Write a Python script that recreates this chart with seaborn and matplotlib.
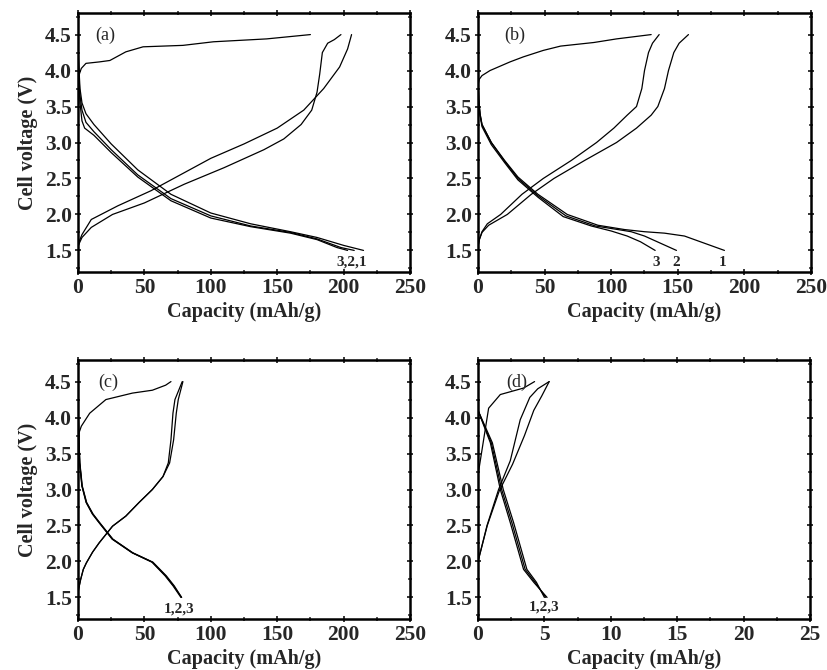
import matplotlib
matplotlib.use("Agg")
import matplotlib.pyplot as plt
import seaborn as sns
from matplotlib.ticker import MultipleLocator

# ---------------- data ----------------
# Panel (a)
a_ch1_x = [0, 1, 2.5, 6, 16, 24, 36, 49, 79, 102, 142, 175]
a_ch1_y = [3.6, 3.95, 4.03, 4.10, 4.12, 4.14, 4.26, 4.33, 4.35, 4.40, 4.44, 4.50]
a_ch2_x = [0, 1, 3, 10, 30, 55, 80, 100, 125, 150, 170, 185, 197, 203, 206]
a_ch2_y = [1.55, 1.63, 1.72, 1.93, 2.12, 2.33, 2.58, 2.78, 2.98, 3.2, 3.45, 3.75, 4.05, 4.3, 4.5]
a_ch3_x = [0, 1, 3, 10, 26, 50, 80, 110, 140, 155, 168, 176, 180, 182, 184, 188, 193, 198]
a_ch3_y = [1.55, 1.6, 1.68, 1.82, 2.0, 2.16, 2.42, 2.65, 2.9, 3.05, 3.25, 3.45, 3.7, 3.95, 4.25, 4.38, 4.43, 4.5]
a_dis1_x = [0, 0.5, 1.5, 3, 6, 12, 25, 45, 70, 100, 130, 160, 180, 200, 215]
a_dis1_y = [4.4, 4.1, 3.75, 3.55, 3.4, 3.25, 2.98, 2.62, 2.28, 2.02, 1.87, 1.76, 1.68, 1.57, 1.5]
a_dis2_x = [0, 0.5, 1.5, 3, 6, 12, 25, 45, 70, 100, 130, 160, 180, 198, 208]
a_dis2_y = [4.4, 4.0, 3.65, 3.45, 3.28, 3.15, 2.9, 2.55, 2.22, 1.98, 1.84, 1.75, 1.66, 1.54, 1.5]
a_dis3_x = [0, 0.5, 1.5, 3, 5, 12, 25, 45, 70, 100, 130, 160, 180, 195, 203]
a_dis3_y = [4.4, 3.95, 3.55, 3.3, 3.2, 3.1, 2.86, 2.52, 2.19, 1.95, 1.83, 1.74, 1.65, 1.54, 1.5]

# Panel (b)
b_ch1_x = [0, 1, 3, 9, 24, 34, 49, 62, 87, 104, 130]
b_ch1_y = [3.8, 3.88, 3.93, 4.0, 4.12, 4.19, 4.28, 4.34, 4.39, 4.44, 4.5]
b_ch2_x = [0, 1, 3, 8, 22, 40, 57, 80, 104, 119, 130, 135, 140, 143, 147, 151, 158]
b_ch2_y = [1.55, 1.65, 1.75, 1.85, 2.0, 2.28, 2.5, 2.75, 3.0, 3.2, 3.38, 3.5, 3.75, 4.0, 4.25, 4.38, 4.5]
b_ch3_x = [0, 1, 3, 7, 17, 33, 49, 70, 89, 102, 112, 119, 123, 125, 128, 131, 136]
b_ch3_y = [1.55, 1.65, 1.76, 1.87, 2.0, 2.28, 2.5, 2.75, 3.0, 3.2, 3.38, 3.5, 3.75, 4.0, 4.25, 4.38, 4.5]
b_dis1_x = [0, 0.5, 1.5, 3, 10, 20, 30, 45, 67, 90, 110, 125, 140, 155, 170, 185]
b_dis1_y = [3.9, 3.6, 3.4, 3.25, 3.0, 2.75, 2.52, 2.28, 2.0, 1.85, 1.79, 1.76, 1.74, 1.7, 1.6, 1.5]
b_dis2_x = [0, 0.5, 1.5, 3, 10, 20, 30, 45, 66, 88, 105, 115, 125, 137, 149]
b_dis2_y = [3.9, 3.6, 3.4, 3.25, 3.0, 2.74, 2.5, 2.26, 1.98, 1.84, 1.79, 1.76, 1.7, 1.6, 1.5]
b_dis3_x = [0, 0.5, 1.5, 3, 10, 20, 30, 45, 64, 85, 100, 112, 122, 133]
b_dis3_y = [3.9, 3.6, 3.38, 3.22, 2.97, 2.72, 2.48, 2.24, 1.97, 1.84, 1.77, 1.7, 1.62, 1.5]

# Panel (c)
c_ch1_x = [0, 1, 2.5, 8.8, 21, 41, 56, 66, 70]
c_ch1_y = [3.7, 3.8, 3.88, 4.06, 4.25, 4.34, 4.38, 4.45, 4.5]
c_ch2_x = [0, 0.5, 2, 4, 6.3, 11, 16, 26, 36, 46, 56, 64, 68, 70, 71.5, 73, 78.5]
c_ch2_y = [1.55, 1.62, 1.75, 1.89, 1.98, 2.13, 2.26, 2.49, 2.63, 2.82, 3.0, 3.18, 3.37, 3.69, 4.06, 4.25, 4.5]
c_ch3_x = [0, 0.5, 2, 4, 6.3, 11, 16, 26, 36, 46, 56, 64, 69, 72, 74, 75.5, 79]
c_ch3_y = [1.55, 1.62, 1.75, 1.89, 1.98, 2.13, 2.26, 2.49, 2.63, 2.82, 3.0, 3.18, 3.37, 3.69, 4.06, 4.25, 4.5]
c_dis1_x = [0, 0.5, 1.3, 3, 6.3, 11, 16, 26, 41, 56, 66, 72, 78]
c_dis1_y = [4.3, 3.8, 3.37, 3.05, 2.82, 2.66, 2.54, 2.31, 2.12, 1.99, 1.8, 1.66, 1.5]
c_dis2_x = [0, 0.5, 1.4, 3.2, 6.5, 11.3, 16.3, 26.3, 41.3, 56.4, 66.5, 72.5, 78]
c_dis2_y = [4.3, 3.8, 3.37, 3.05, 2.82, 2.66, 2.54, 2.31, 2.12, 1.99, 1.8, 1.66, 1.5]
c_dis3_x = [0, 0.5, 1.2, 2.9, 6.1, 10.8, 15.8, 25.7, 40.8, 55.7, 65.6, 71.6, 77.5]
c_dis3_y = [4.3, 3.8, 3.37, 3.05, 2.82, 2.66, 2.54, 2.31, 2.12, 1.99, 1.8, 1.66, 1.5]

# Panel (d)
d_ch1_x = [0, 0.8, 1.68, 3.43, 4.26]
d_ch1_y = [3.2, 4.13, 4.32, 4.41, 4.5]
d_ch2_x = [0, 0.68, 1.55, 2.43, 3.18, 3.9, 4.5, 5.36]
d_ch2_y = [2.0, 2.5, 3.0, 3.4, 3.97, 4.28, 4.4, 4.5]
d_ch3_x = [0, 0.7, 1.6, 2.6, 3.5, 4.2, 4.8, 5.36]
d_ch3_y = [2.0, 2.5, 2.98, 3.35, 3.75, 4.1, 4.3, 4.5]
d_dis1_x = [0, 0.93, 1.68, 2.43, 3.43, 4.2, 5.2]
d_dis1_y = [4.1, 3.65, 3.0, 2.54, 1.89, 1.71, 1.5]
d_dis2_x = [0, 1.0, 1.78, 2.55, 3.55, 4.3, 5.1]
d_dis2_y = [4.1, 3.65, 3.0, 2.54, 1.89, 1.71, 1.5]
d_dis3_x = [0, 1.08, 1.9, 2.68, 3.68, 4.4, 5.0]
d_dis3_y = [4.1, 3.65, 3.0, 2.54, 1.89, 1.71, 1.5]

panel_letters = ["(a)", "(b)", "(c)", "(d)"]
x_label = "Capacity (mAh/g)"
y_label = "Cell voltage (V)"
xlims = [250, 250, 250, 25]
y_ticks = [1.5, 2.0, 2.5, 3.0, 3.5, 4.0, 4.5]
y_tick_labels = ["1.5", "2.0", "2.5", "3.0", "3.5", "4.0", "4.5"]

# ---------------- style ----------------
sns.set_theme(style="ticks")
plt.rcParams['font.family'] = ['Liberation Serif', 'DejaVu Serif']

fig = plt.figure(figsize=(8.28, 6.70), dpi=100)
W, H = 828, 670
boxes = [(78, 13, 410, 272), (478, 13, 811, 272), (78, 360, 410, 619), (478, 360, 810, 619)]
axes = []
for (l, t, r, b) in boxes:
    axes.append(fig.add_axes([l / W, 1 - b / H, (r - l) / W, (b - t) / H]))

curves = [
    [(a_ch1_x, a_ch1_y), (a_ch2_x, a_ch2_y), (a_ch3_x, a_ch3_y),
     (a_dis1_x, a_dis1_y), (a_dis2_x, a_dis2_y), (a_dis3_x, a_dis3_y)],
    [(b_ch1_x, b_ch1_y), (b_ch2_x, b_ch2_y), (b_ch3_x, b_ch3_y),
     (b_dis1_x, b_dis1_y), (b_dis2_x, b_dis2_y), (b_dis3_x, b_dis3_y)],
    [(c_ch1_x, c_ch1_y), (c_ch2_x, c_ch2_y), (c_ch3_x, c_ch3_y),
     (c_dis1_x, c_dis1_y), (c_dis2_x, c_dis2_y), (c_dis3_x, c_dis3_y)],
    [(d_ch1_x, d_ch1_y), (d_ch2_x, d_ch2_y), (d_ch3_x, d_ch3_y),
     (d_dis1_x, d_dis1_y), (d_dis2_x, d_dis2_y), (d_dis3_x, d_dis3_y)],
]

letter_pos = [(0.052, 0.915), (0.078, 0.915), (0.062, 0.915), (0.086, 0.915)]

for i, ax in enumerate(axes):
    for (xs, ys) in curves[i]:
        sns.lineplot(x=xs, y=ys, ax=ax, sort=False, estimator=None,
                     color="black", linewidth=0.9)
    ax.set_xlim(0, xlims[i])
    ax.set_ylim(1.2, 4.8)
    ax.yaxis.set_minor_locator(MultipleLocator(0.25))
    if xlims[i] == 250:
        ax.xaxis.set_major_locator(MultipleLocator(50))
        ax.xaxis.set_minor_locator(MultipleLocator(25))
    else:
        ax.xaxis.set_major_locator(MultipleLocator(5))
        ax.xaxis.set_minor_locator(MultipleLocator(2.5))
    ax.set_yticks(y_ticks)
    ax.set_yticklabels(y_tick_labels)
    ax.tick_params(axis='both', which='major', direction='inout', length=5, width=1.3,
                   labelsize=15.5, top=True, right=True, pad=2)
    ax.tick_params(axis='both', which='minor', direction='inout', length=3, width=1.1,
                   top=True, right=True)
    for lab in ax.get_xticklabels() + ax.get_yticklabels():
        lab.set_fontweight('bold')
    for sp in ax.spines.values():
        sp.set_visible(True)
        sp.set_linewidth(1.8)
        sp.set_color("black")
    ax.set_xlabel(x_label, fontsize=14.5, fontweight='bold', labelpad=3)
    if i in (0, 2):
        ax.set_ylabel(y_label, fontsize=14.5, fontweight='bold', labelpad=5)
    else:
        ax.set_ylabel("")
    ax.text(letter_pos[i][0], letter_pos[i][1], panel_letters[i], transform=ax.transAxes,
            fontsize=13, ha='left', va='center')

# cycle annotations
axes[0].text(206, 1.34, "3,2,1", fontsize=11, fontweight='bold', ha='center', va='center')
axes[1].text(133.5, 1.33, "3", fontsize=11, fontweight='bold', ha='center', va='center')
axes[1].text(149, 1.33, "2", fontsize=11, fontweight='bold', ha='center', va='center')
axes[1].text(184, 1.33, "1", fontsize=11, fontweight='bold', ha='center', va='center')
axes[2].text(76.4, 1.34, "1,2,3", fontsize=11, fontweight='bold', ha='center', va='center')
axes[3].text(5.0, 1.36, "1,2,3", fontsize=11, fontweight='bold', ha='center', va='center')

fig.savefig("out.png", dpi=100)
